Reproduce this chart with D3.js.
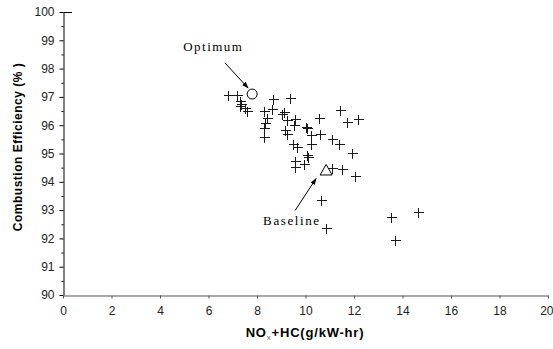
<!DOCTYPE html>
<html>
<head>
<meta charset="utf-8">
<script src="https://cdn.jsdelivr.net/npm/d3@7"></script>
<style>
  html, body { margin: 0; padding: 0; background: #fff; }
  svg { display: block; }
  .tick text { font-family: "Liberation Sans", Arial, sans-serif; font-size: 12px; fill: #222; }
</style>
</head>
<body>
<svg id="chart" width="553" height="349"></svg>
<script>
// NOx+HC emissions (g/kW-hr) against combustion efficiency (%) for the test runs
const noxHc = [6.82, 7.16, 7.30, 7.30, 7.34, 7.51, 7.58, 8.65, 8.30, 8.61,
               8.42, 8.33, 8.30, 8.30, 9.05, 9.11, 9.15, 9.24, 9.36, 9.25,
               9.57, 9.53, 10.57, 10.05, 10.00, 10.21, 10.60, 11.08, 11.38, 11.44,
               11.73, 12.18, 11.90, 12.04, 9.50, 9.65, 10.21, 10.05, 10.10, 9.57,
               9.57, 9.94, 11.08, 11.49, 10.65, 10.85, 13.51, 14.65, 13.69];
const efficiency = [97.07, 97.07, 96.86, 96.69, 96.75, 96.62, 96.50, 96.93, 96.50, 96.57,
                    96.27, 96.07, 95.89, 95.59, 96.41, 96.47, 95.83, 95.69, 96.95, 96.18,
                    96.22, 96.01, 96.25, 95.89, 95.95, 95.65, 95.68, 95.51, 95.35, 96.54,
                    96.12, 96.21, 95.01, 94.19, 95.33, 95.23, 95.35, 94.93, 94.88, 94.73,
                    94.54, 94.63, 94.48, 94.44, 93.36, 92.36, 92.74, 92.92, 91.94];

// highlighted operating points
const optimum = [7.8, 97.1];
const baseline = [10.85, 94.4];

const xTicks = [0, 2, 4, 6, 8, 10, 12, 14, 16, 18, 20];
const yTicks = [90, 91, 92, 93, 94, 95, 96, 97, 98, 99, 100];
const yMinorTicks = [90.5, 91.5, 92.5, 93.5, 94.5, 95.5, 96.5, 97.5, 98.5, 99.5];

const svg = d3.select("#chart");
const x = d3.scaleLinear().domain([0, 20]).range([63, 548]);
const y = d3.scaleLinear().domain([90, 100]).range([295, 12]);

// arrow head
svg.append("defs").append("marker")
  .attr("id", "head").attr("viewBox", "0 0 10 10")
  .attr("refX", 9).attr("refY", 5)
  .attr("markerWidth", 7).attr("markerHeight", 7)
  .attr("orient", "auto")
  .append("path").attr("d", "M0,1.5L10,5L0,8.5Z").attr("fill", "#000");

// y axis with outside ticks plus half-unit minor ticks
const yAxis = svg.append("g").attr("transform", "translate(63.5,0)")
  .call(d3.axisLeft(y).tickValues(yTicks).tickSize(4).tickSizeOuter(0).tickPadding(5));
yAxis.select(".domain").attr("stroke", "#000");
yAxis.selectAll(".tick line").attr("stroke", "#000");
svg.append("g").attr("transform", "translate(63.5,0)")
  .call(d3.axisLeft(y).tickValues(yMinorTicks).tickSize(2).tickSizeOuter(0).tickFormat(""))
  .call(g => g.select(".domain").remove())
  .selectAll(".tick line").attr("stroke", "#000");
// short stub at the top of the value axis
svg.append("line")
  .attr("x1", 63.5).attr("x2", 72).attr("y1", Math.round(y(100)) + 0.5).attr("y2", Math.round(y(100)) + 0.5)
  .attr("stroke", "#000");

// x axis
const xAxis = svg.append("g").attr("transform", "translate(0,295.5)")
  .call(d3.axisBottom(x).tickValues(xTicks).tickSize(3).tickSizeOuter(0).tickPadding(8));
xAxis.select(".domain").attr("stroke", "#555");
xAxis.selectAll(".tick line").attr("stroke", "#555");
// keep the last label inside the frame
xAxis.selectAll(".tick text").filter(d => d === 20)
  .attr("text-anchor", "end").attr("dx", 5);

// axis titles
svg.append("text")
  .attr("transform", "translate(22,147) rotate(-90)")
  .attr("text-anchor", "middle")
  .attr("font-family", "Liberation Sans, Arial, sans-serif")
  .attr("font-weight", "bold").attr("font-size", 12).attr("letter-spacing", 0.5)
  .text("Combustion Efficiency (% )");

const xt = svg.append("text")
  .attr("x", 305).attr("y", 337)
  .attr("text-anchor", "middle")
  .attr("font-family", "Liberation Sans, Arial, sans-serif")
  .attr("font-weight", "bold").attr("font-size", 13).attr("letter-spacing", 0.8);
xt.append("tspan").text("NO");
xt.append("tspan").attr("font-size", 8).attr("dy", 3).attr("font-weight", "normal").attr("fill", "#666").text("x");
xt.append("tspan").attr("dy", -3).text("+HC(g/kW-hr)");

// data crosses
svg.append("g").selectAll("path")
  .data(noxHc.map((v, i) => [v, efficiency[i]]))
  .join("path")
  .attr("transform", d => `translate(${Math.round(x(d[0])) + 0.5},${Math.round(y(d[1])) + 0.5})`)
  .attr("d", "M-5,0H5M0,-5V5")
  .attr("stroke", "#1a1a1a").attr("stroke-width", 1)
  .attr("shape-rendering", "crispEdges");

// optimum circle
svg.append("circle")
  .attr("cx", x(optimum[0])).attr("cy", y(optimum[1])).attr("r", 5)
  .attr("fill", "#fff").attr("stroke", "#000").attr("stroke-width", 1);

// baseline triangle
const bx = x(baseline[0]), by = y(baseline[1]);
svg.append("path")
  .attr("d", `M${bx},${by - 6}L${bx + 6},${by + 4.5}L${bx - 6},${by + 4.5}Z`)
  .attr("fill", "none").attr("stroke", "#000").attr("stroke-width", 1);

// annotations
const serif = "Liberation Serif, Times New Roman, serif";
svg.append("text")
  .attr("x", x(optimum[0]) - 69).attr("y", y(optimum[1]) - 43)
  .attr("font-family", serif).attr("font-size", 13).attr("letter-spacing", 1.5)
  .text("Optimum");
svg.append("line")
  .attr("x1", x(optimum[0]) - 27).attr("y1", y(optimum[1]) - 31)
  .attr("x2", x(optimum[0]) - 4).attr("y2", y(optimum[1]) - 6)
  .attr("stroke", "#000").attr("stroke-width", 1)
  .attr("marker-end", "url(#head)");

svg.append("text")
  .attr("x", bx - 63).attr("y", by + 55)
  .attr("font-family", serif).attr("font-size", 13).attr("letter-spacing", 1.6)
  .text("Baseline");
svg.append("line")
  .attr("x1", bx - 31).attr("y1", by + 40)
  .attr("x2", bx - 10).attr("y2", by + 8)
  .attr("stroke", "#000").attr("stroke-width", 1)
  .attr("marker-end", "url(#head)");
</script>
</body>
</html>
